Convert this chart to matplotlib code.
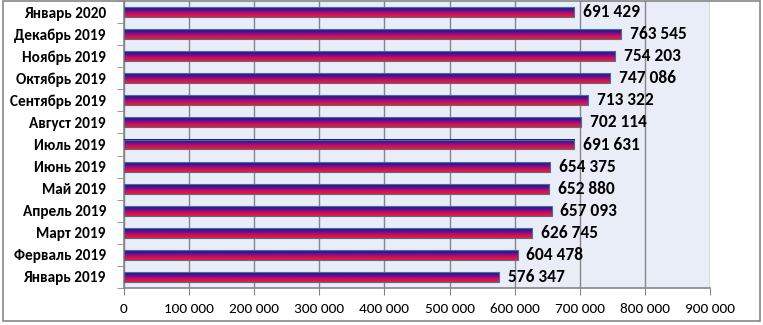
import numpy as np
import matplotlib.pyplot as plt
from matplotlib.colors import LinearSegmentedColormap
from matplotlib.patches import Rectangle

months = ['Январь 2019', 'Ферваль 2019', 'Март 2019', 'Апрель 2019', 'Май 2019',
          'Июнь 2019', 'Июль 2019', 'Август 2019', 'Сентябрь 2019', 'Октябрь 2019',
          'Ноябрь 2019', 'Декабрь 2019', 'Январь 2020']
values = [576347, 604478, 626745, 657093, 652880, 654375, 691631, 702114,
          713322, 747086, 754203, 763545, 691429]
xticks = list(range(0, 900001, 100000))


def fmt(v):
    return '{:,}'.format(v).replace(',', ' ')


plt.rcParams['font.family'] = ['Carlito', 'Lato', 'Liberation Sans', 'DejaVu Sans']

fig = plt.figure(figsize=(7.63, 3.25), dpi=100)
ax = fig.add_axes([124 / 763, 1 - 288 / 325, (710 - 124) / 763, 287 / 325])
ax.set_facecolor('#E9EDF7')

# gradient: dark blue on top -> purple -> red at bottom
cmap = LinearSegmentedColormap.from_list('flag', ['#FF1A1A', '#C0106A', '#5A1090', '#1A1A8C'])
grad = np.linspace(0, 1, 64).reshape(-1, 1)

h = 0.45
ypos = np.arange(len(months))
for y, v in zip(ypos, values):
    ax.imshow(grad, cmap=cmap, aspect='auto', origin='lower',
              extent=[0, v, y - h / 2, y + h / 2], zorder=3)
    ax.add_patch(Rectangle((0, y - h / 2), v, h, fill=False, edgecolor='#41719C',
                           linewidth=0.8, zorder=4))
    ax.text(v + 13000, y, fmt(v), va='center', ha='left', fontsize=12.5,
            fontweight='bold', zorder=5)

ax.set_xlim(0, 900000)
ax.set_ylim(-0.5, len(months) - 0.5)
ax.set_xticks(xticks)
ax.set_xticklabels([fmt(t) for t in xticks], fontsize=11)
ax.set_yticks(ypos)
ax.set_yticklabels(months, fontsize=11, fontweight='bold')
ax.set_yticks(np.arange(-0.5, len(months), 1), minor=True)
ax.tick_params(axis='y', which='major', length=0, pad=13)
ax.tick_params(axis='y', which='minor', length=5, color='#868686')
ax.tick_params(axis='x', length=5, color='#868686', pad=6)
ax.grid(axis='x', color='#868686', linewidth=1, zorder=1)
ax.set_axisbelow(True)
for s in ['top', 'right']:
    ax.spines[s].set_visible(False)
for s in ['left', 'bottom']:
    ax.spines[s].set_color('#868686')
    ax.spines[s].set_linewidth(1.2)

fig.patches.append(Rectangle((3 / 763, 1 - 321 / 325), 757 / 763, 320 / 325,
                             transform=fig.transFigure, fill=False,
                             edgecolor='#868686', linewidth=1.2))

fig.savefig('out.png', dpi=100)
